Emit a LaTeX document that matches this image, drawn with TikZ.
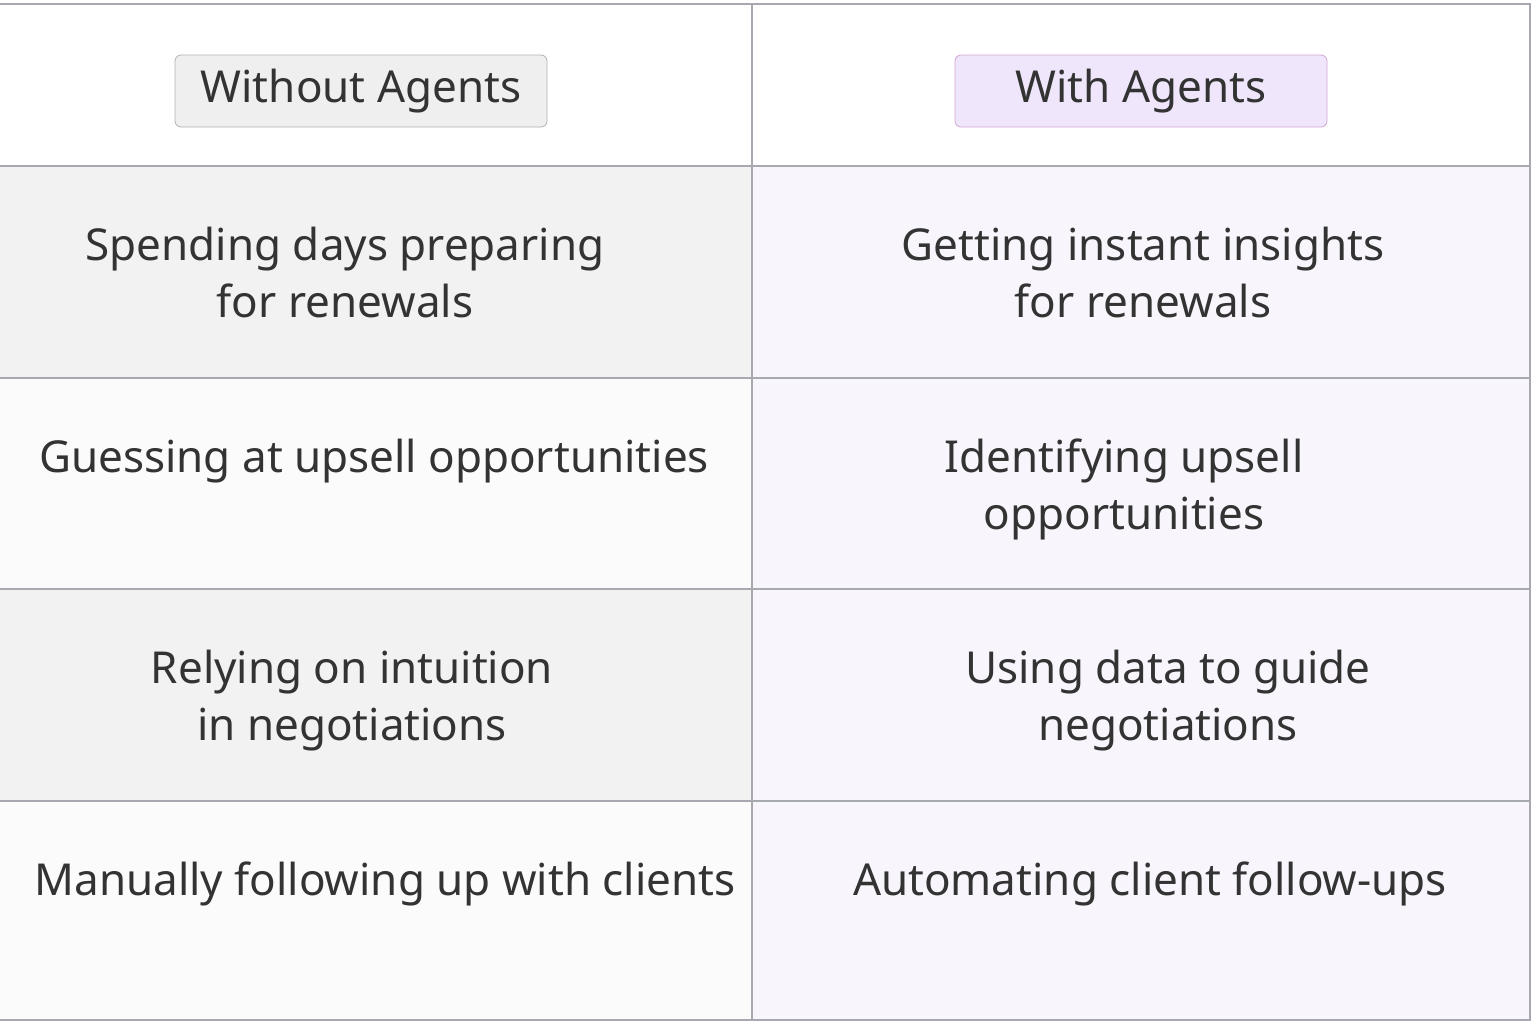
\documentclass[tikz,border=0pt]{standalone}
\usepackage{fontspec}
\setmainfont{Noto Sans}
\usetikzlibrary{positioning}
\definecolor{rowgray}{HTML}{F2F2F2}
\definecolor{rowwhite}{HTML}{FBFBFB}
\definecolor{rowlav}{HTML}{F8F6FC}
\definecolor{gridline}{HTML}{A8A8B0}
\definecolor{txt}{HTML}{333333}
\definecolor{headgray}{HTML}{EFEFEF}
\definecolor{headlav}{HTML}{EFE6FB}
\begin{document}
\begin{tikzpicture}[x=0.5pt, y=-0.5pt,
    cell/.style = {text=txt, align=center, anchor=north, font=\fontsize{22}{28.5}\selectfont},
    head/.style = {text=txt, rounded corners=3pt, minimum width=186pt, minimum height=36pt,
                   font=\fontsize{22}{26}\selectfont\bfseries}]
    \useasboundingbox (0,0) rectangle (1536,1024);
    % backgrounds
    \fill[white] (0,4) rectangle (1530,1020);
    \fill[rowgray]  (0,166) rectangle (752,378);
    \fill[rowwhite] (0,378) rectangle (752,589);
    \fill[rowgray]  (0,589) rectangle (752,801);
    \fill[rowwhite] (0,801) rectangle (752,1020);
    \fill[rowlav]   (752,166) rectangle (1530,1020);
    % grid
    \draw[gridline, line width=0.8pt] (0,4) -- (1530,4) -- (1530,1020) -- (0,1020);
    \draw[gridline, line width=0.8pt] (752,4) -- (752,1020);
    \foreach \y in {166,378,589,801}
        \draw[gridline, line width=0.8pt] (0,\y) -- (1530,\y);

    \node[head, draw=black!30, fill=headgray] (without) at (361,91) {Without Agents};
    \node[head, draw=violet!35, fill=headlav] (with) at (1141,91) {With Agents};

    \node[cell] (l1) at (345,220) {Spending days preparing\\for renewals};
    \node[cell] (l2) at (374,432) {Guessing at upsell opportunities};
    \node[cell] (l3) at (352,643) {Relying on intuition\\in negotiations};
    \node[cell] (l4) at (385,855) {Manually following up with clients};

    \node[cell] (r1) at (1143,220) {Getting instant insights\\for renewals};
    \node[cell] (r2) at (1124,432) {Identifying upsell\\opportunities};
    \node[cell] (r3) at (1168,643) {Using data to guide\\negotiations};
    \node[cell] (r4) at (1150,855) {Automating client follow-ups};
\end{tikzpicture}
\end{document}
